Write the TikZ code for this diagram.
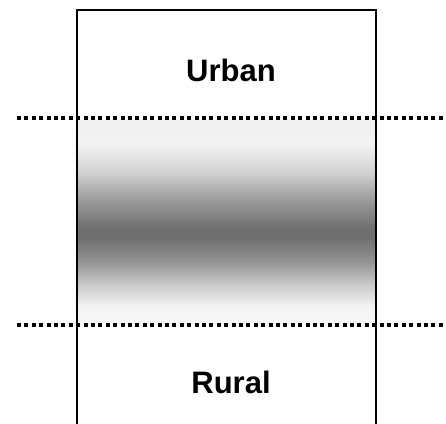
\documentclass[tikz,border=0pt]{standalone}
\usepackage{fontspec}
\setmainfont{Liberation Sans}
% vertical profile of the transition band (25bp = bottom edge, 75bp = top edge)
\pgfdeclareverticalshading{band}{100bp}{%
  color(0bp)=(white!97!black);
  color(25bp)=(white!97!black);
  color(29bp)=(white!95!black);
  color(34bp)=(black!20);
  color(40bp)=(black!42);
  color(46bp)=(black!57);
  color(48bp)=(black!57);
  color(55bp)=(black!40);
  color(62bp)=(black!18);
  color(69bp)=(white!95!black);
  color(75bp)=(white!94!black);
  color(100bp)=(white!94!black)}
\begin{document}
\begin{tikzpicture}[x=1pt,y=-1pt,
  frame/.style={line width=2pt,line cap=rect},
  zoneline/.style={line width=3.5pt,dash pattern=on 4pt off 3.4pt},
  zonelabel/.style={font=\fontsize{31}{36}\selectfont\bfseries,inner sep=0pt}]
  \useasboundingbox (0,0) rectangle (446,423);
  % transition band between the two zones
  \shade[shading=band] (78,120) rectangle (376,322);
  % open-bottomed frame
  \coordinate (bl) at (77,423);
  \coordinate (tl) at (77,10);
  \coordinate (tr) at (376,10);
  \coordinate (br) at (376,423);
  \draw[frame] (bl) -- (tl) -- (tr) -- (br);
  % zone boundaries
  \coordinate (u1) at (17,118);
  \coordinate (u2) at (444,118);
  \coordinate (r1) at (17,325);
  \coordinate (r2) at (444,325);
  \draw[zoneline] (u1) -- (u2);
  \draw[zoneline] (r1) -- (r2);
  \node[zonelabel] (urban) at (231,70) {Urban};
  \node[zonelabel] (rural) at (231,382) {Rural};
\end{tikzpicture}
\end{document}
